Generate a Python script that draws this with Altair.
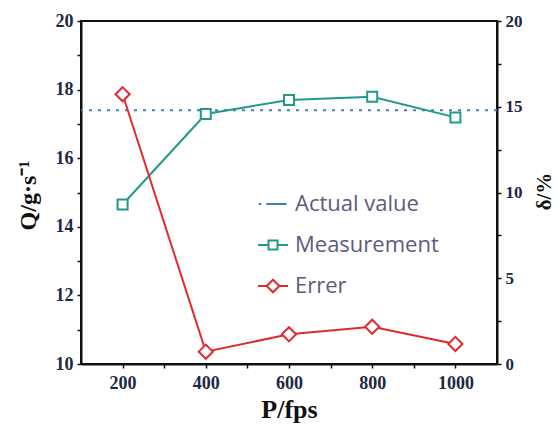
import altair as alt
import pandas as pd

# ---- data ----
fps = [200, 400, 600, 800, 1000]
measurement = [14.65, 17.29, 17.70, 17.79, 17.19]
error_pct = [15.73, 0.72, 1.73, 2.17, 1.17]
actual_value = 17.4

series_names = ["Actual value", "Measurement", "Errer"]
series_colors = ["#3f7fb8", "#1f9a8c", "#e02a2e"]

x_ticks = [200, 300, 400, 500, 600, 700, 800, 900, 1000]
q_ticks = [10, 11, 12, 13, 14, 15, 16, 17, 18, 19, 20]
d_ticks = [0, 2.5, 5, 7.5, 10, 12.5, 15, 17.5, 20]

df_meas = pd.DataFrame({"P": fps, "Q": measurement})
df_err = pd.DataFrame({"P": fps, "d": error_pct})
df_leg = pd.DataFrame({"P": [600, 600, 600], "Q": [0, 0, 0], "series": series_names})

W, H = 416, 343
SERIF = "Liberation Serif"
LABEL_COLOR = "#1d2845"

x_enc = alt.X(
    "P:Q",
    scale=alt.Scale(domain=[100, 1100], nice=False, zero=False),
    axis=alt.Axis(
        values=x_ticks,
        labelExpr="datum.value % 200 == 0 ? datum.label : ''",
        title="P/fps",
        format="d",
        grid=False,
        tickSize=4,
        labelPadding=6,
        titlePadding=4,
        labelFont=SERIF, labelFontWeight="bold", labelFontSize=18, labelColor=LABEL_COLOR,
        titleFont=SERIF, titleFontWeight="bold", titleFontSize=26, titleColor="#111111",
        domainColor="#111111", domainWidth=2, tickColor="#111111", tickWidth=1.5,
    ),
)

q_scale = alt.Scale(domain=[10, 20], nice=False, zero=False)
q_axis = alt.Axis(
    orient="left",
    values=q_ticks,
    labelExpr="datum.value % 2 == 0 ? datum.label : ''",
    title="Q/g·s⁻¹",
    grid=False,
    tickSize=4,
    labelPadding=4,
    titleX=-53,
    titleY=174,
    titleAlign="center",
    titleBaseline="middle",
    titleAngle=270,
    labelFont=SERIF, labelFontWeight="bold", labelFontSize=18, labelColor=LABEL_COLOR,
    titleFont=SERIF, titleFontWeight="bold", titleFontSize=24, titleColor="#111111",
    domainColor="#111111", domainWidth=2, tickColor="#111111", tickWidth=1.5,
)

d_axis = alt.Axis(
    orient="right",
    values=d_ticks,
    labelExpr="datum.value % 5 == 0 ? datum.label : ''",
    title="δ/%",
    titleAngle=270,
    titleX=47,
    titleY=170,
    titleAlign="center",
    titleBaseline="middle",
    grid=False,
    tickSize=4,
    labelPadding=4,
    labelFont=SERIF, labelFontWeight="bold", labelFontSize=17, labelColor=LABEL_COLOR,
    titleFont=SERIF, titleFontWeight="bold", titleFontSize=21, titleColor="#111111",
    domainColor="#111111", domainWidth=2, tickColor="#111111", tickWidth=1.5,
)

base_meas = alt.Chart(df_meas)

actual_rule = alt.Chart(pd.DataFrame({"v": [actual_value]})).mark_rule(
    color=series_colors[0], strokeWidth=2, strokeDash=[3, 6]
).encode(y=alt.Y("v:Q", scale=q_scale, axis=q_axis))

meas_line = base_meas.mark_line(color=series_colors[1], strokeWidth=2).encode(
    x=x_enc, y=alt.Y("Q:Q", scale=q_scale, axis=q_axis)
)
meas_pts = base_meas.mark_point(
    shape="square", size=100, filled=True, fill="white",
    stroke=series_colors[1], strokeWidth=2, opacity=1
).encode(x=x_enc, y=alt.Y("Q:Q", scale=q_scale, axis=q_axis))

leg_paths = [
    "M-0.95,0H-0.78M-0.45,0H0.9",
    "M-1,0H-0.3M0.3,0H1M-0.3,-0.3H0.3V0.3H-0.3Z",
    "M-1,0H-0.42M0.42,0H1M0,-0.42L0.42,0L0,0.42L-0.42,0Z",
]

legend_cfg = dict(
    title=None,
    orient="none",
    legendX=176,
    legendY=167,
    symbolSize=900,
    symbolStrokeWidth=2,
    labelFont="Open Sans",
    labelFontSize=22,
    labelColor="#5e5b7c",
    labelOffset=6,
    rowPadding=14,
    labelLimit=300,
)

legend_layer = alt.Chart(df_leg).mark_point(
    filled=False, strokeWidth=2, clip=True, opacity=1
).encode(
    x=x_enc,
    y=alt.Y("Q:Q", scale=q_scale, axis=q_axis),
    color=alt.Color(
        "series:N",
        scale=alt.Scale(domain=series_names, range=series_colors),
        sort=series_names,
        legend=alt.Legend(**legend_cfg),
    ),
    shape=alt.Shape(
        "series:N",
        scale=alt.Scale(domain=series_names, range=leg_paths),
        sort=series_names,
        legend=alt.Legend(**legend_cfg),
    ),
)

left = alt.layer(actual_rule, meas_line, meas_pts, legend_layer)

d_scale = alt.Scale(domain=[0, 20], nice=False, zero=False)
base_err = alt.Chart(df_err)
err_line = base_err.mark_line(color=series_colors[2], strokeWidth=2).encode(
    x=x_enc, y=alt.Y("d:Q", scale=d_scale, axis=d_axis)
)
err_pts = base_err.mark_point(
    shape="diamond", size=200, filled=True, fill="white",
    stroke=series_colors[2], strokeWidth=2, opacity=1
).encode(x=x_enc, y=alt.Y("d:Q", scale=d_scale, axis=d_axis))

right = alt.layer(err_line, err_pts)

chart = (
    alt.layer(left, right)
    .resolve_scale(y="independent")
    .properties(
        width=W, height=H,
        autosize=alt.AutoSizeParams(type="none"),
        padding={"left": 81, "top": 21, "right": 60, "bottom": 62},
        background="white",
    )
    .configure_view(stroke="#111111", strokeWidth=2)
)

chart.save("out.html", embed_options={"renderer": "svg", "actions": False})
